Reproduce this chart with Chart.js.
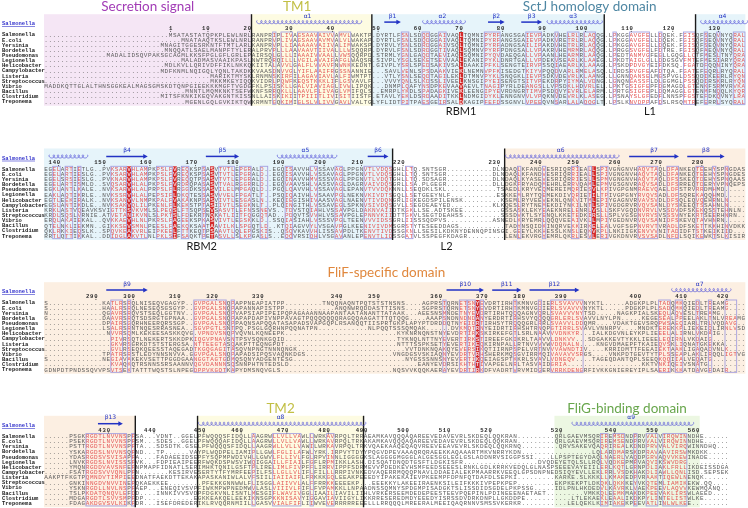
<!DOCTYPE html>
<html><head><meta charset="utf-8">
<script src="https://cdn.jsdelivr.net/npm/chart.js@4.4.1/dist/chart.umd.min.js"></script>
<style>html,body{margin:0;padding:0;background:#fff;}#c{display:block;}</style>
</head><body>
<canvas id="c" width="748" height="508"></canvas>
<script>
// ---------------- DATA ----------------
const species = ["Salmonella","E.coli","Yersinia","Bordetella","Pseudomonas","Legionella","Helicobacter","Campylobacter","Listeria","Streptococcus","Vibrio","Bacillus","Clostridium","Treponema"];
const referenceName = "Salmonella";

const block1 = [
"..............................MSATASTATQPKPLEWLNRLRANPRIPLIVAGSAAVAIVVAMVLWAKTP.DYRTLFSNLSDQDGGAIVAQLTQMNIPYRFANGSGAIEVPADKVHELRLRLAQQG.LPKGGAVGFELLDQEK.FGISQFSEQVNYQRAL",
".................................MNATAAQTKSLEWLNRLRANPRVPLIVAGSAAVAVMVALVLWAKAP.DYRTLFSNLSDQDGGAIVAQLTQMNIPYRFANGSGAIEVPADKVRETRLRLAQQG.LPKGGAVGFELLDQEK.FGISQFSEQVNYQRAL",
"............................MNAGITGGESRKNTFTMTLARLKANPRVPLLIAAAAAVAIIVALIMWAKSP.DYRVLYSNLSDRDGGAIVSQLTQMNIPYRFADNGSAILIPAKDVHETRLRLAQQG.LPKGGAVGFELLDQEK.FGISQFSEQVNYQRAL",
".............................MNQQATLSAELMANPFTYLERALPRVPLLLAAVAAVTIIVALLLWSQQRP.DYRVLFSNLSDRDGGTIVAQLSQMNVPYRFPDNGSALLVPAKRVHEMRMRLAQQG.LPRGGSVGFELFDTRE.FGISQFAEQVNYQRAL",
"...............MADALIDSQVPAKSGCAGMLKKSFPGLGFLGRLEPAIRSQLGLLLIAAAIVVAALLVWSQQRPD.STRMLYGNLGAQDTAEVIAQLSQMNIPYQVDAEQGALLVPAANLHEARMRLAAQG.LPEDTANMVGFEGLLGQGLLCTFMESLTNYQRA",
".................................MALADMASVAAIKPASLNWTRQRQILLLVGILAVAIFAFGLWAQSR.SIVPLYSGLSEKETSEVVAALEKANIPYKLDNRTGALLVPDEKVSEARLKLAAEG.LPKDTAIGLGLLDDGSGVFMTEFMESIARYQRA",
".............................MDLKVLLQRIVDFFIKLNKKQKIITALAVVLGALFLVVAVFNWNKKEDNT.GIVPLYSRLSPEDSAKIVSALDAAKIPFKLSENGTEIRVPSSQIAEARLKLAAAG.LPSKDPDVGYEIFDKSQ.FGATDFQQNINYQRA",
"............................MDFKNMLNQIGQLYQNLTAKDKKVAASDNVVGLYIFLAAIFRGSSNANNIE...SAVLVENLSPSDAAKVIEKLNEMNVPFKISEDGTKIYVPQQDVARLRMELASQ.LIRDSRVGFEAFDTQA.FGATEFEQRLRYQRAL",
"........................................MARIKTMYSKLRNMNSKIRFILAGAVIAVLALFIWMTPT...VTLYSNLSEQDTAGILEKLDTMNVPYKLSNQGKLIEVPSDKVDEVRLKLAANG.LLGNNQANSELMGSPVGLDSSQDIKEERLRYQN",
"........................................MKKMKEYIQQKVIDRLPQWFKEQSTKKKLIFLGSVAVLF...VVVYQNLSLKDSSLIVEELKNSGIPYEISENGTSITVPEKDRPYIYMALVDNG.LGNQNGASSFLDLGGMGLPSSQDIRSKRLRYQN",
"MADDKQTTGLALTHNSGGKEALMAGSGMSKDTQNPGIEEKKKMGFTVGDGFKLPSISKLLGALVIAVIAGLIVWLIPQK...DNMPLQAFYNSDPKEVAAVAEVLTNAGIPYRLDEANGSLLVPSDKLHDVRLEL.LPKTGSIGFEPFDGMAGDLGTENKFSRMVRVKA",
"..................................MNNTLMQMKNKTSEFWKNFSRRQKLLLAAVLFLIVAGLVMIFQLS..EMRPLYKDLSPADAGKIVEKLEENGIPYEVRDNGRTIMVPSDQVYEVRLELARM.LPRTGSIGFEPLDQMAGGLGTENMFNQQLKYQR",
"............................MITSFKNKIKEQVAKGNTKISSNLLAISKIKIITPIIITLIVISITIISTF.ETAVLYEKLDSRDAADITKKLNDMGIDYKLENNGNVVLVPQKNVDEVRLKLASEG.LPSNAYSLGFEDFLNNSPFGSTEFDKQVNYLRA",
"..................................MGENLGQLGVKIKTQWKRMNTGQKIMIGLSLVLIVVGAVLVALTGLYFLIDTPITPAESGEIRSALDKAGIPFEFDSSGNVLVPEEQVNSARLALAQQGLT.LPSLKNVDPPAFDSLRSQMTREFERRLSYQRAL"
];
const block2 = [
"EGELARTIETLG..PVKSARVHLAMPKPSLFVREQKSPSASVTVTLEPGRALD..EGQISAVVHLVSSAVAGLPPGNVTLVDQSGHLLTQ.SNTSGR...........DLNDAQLKFANDVESRIQRRIEALLSPIVGNGNVHAQVTAQLDFANKEQTEEHYSPNGDAS",
"EGELARTIESLG..PVKSARVHLAMPKPSLFVREQKSPSASVTVTLEPGRALD..EGQISAVVHLVSSAVAGLPPGNVTLVDQSGHLLTQ.SNTSGR...........DLNDAQLKFANDVESRIQRRIEALLSPIVGNGNVHAQVTAQLDFANKEQTEEHYSPNGDES",
"EGELSRSIESLG..PVKNARVHLAMPKPSLFVREQQTPSASVTVTLEPGRALD..EGQINAVVHMVSSSVAGLPPGNVTLVDQTGHLLTQ.SDSAGR...........DLNDAQLKYASEVESRIQRRIESLLSPMVGNGNVHAQVTAQLDFSSKEQTDEHYSPNQAAS",
"EGELARTISMLD..SVQSARVHLALPKPSLFVRDRQPASASVTVALRGGRRLD..EGQVAAVSHLVASSVAGLDAGRVAIVDQSGRLLSA.PLGEGR...........DLLDGKFRYADQMEHRLERRVQAMLEPMVGSGNVRAQVSADLDFSRREQTDERYVPNQEPS",
"EGKLANTLKALE..NVKSARVHLALPRPSLFLRGGDKSSASVILELMPGAQLD..PGQLQAVVHLVSSAVAGLEPANVTVVDQKNNLLSEQDKLSKL............TSAEDLKRYVEQMEREIMQRIESVLKPIVGPGNMRAEVQAELDFSTRVRRDMHMD...",
"EAKLAQTIKRLE..NVKSSRVHLALPEPSIFLDKQTESSASVVVELFPGATLT..PSQIQAIVHLVSAAVPGLNEKNVKIVDTSGQLLSETGEEYNLF...........ESKKEMLRYTQEMEKDIVQRIETILTPIVGPGNYRVQVSADLDFSQREKAQQHMD...",
"EGTLEEKIRALK..NVKSANVVLNMPKPALFVAKAKNPSASVIVTLESGASLN..KEQIEGISHIVAASVAGLNAENVTIVDQNGRLIGKEGDSPILENSK.........KSEMLRYVEEVEKNLQNKVITMLEPIYGAGNVRVAVSVDLDFSQLEQVQEHRNLN...",
"EGSLANTIKDLE..NVKSAKVQLILPKENLFLKEKSTPTASIIVTLSEGKNLT..PLQINGITHLVSSAVEGLSPKNVSIVDQSGVLLSEGDEAEYED..........KLKQESLRYTNEMEKDIYNKILNTLSPIVGDGRVRVQVSANLDYSKEEQTSSAHNLN...",
"KRKLASTVQEAVKSVIGTTKSVKVMLSLPEQSLFTSQPSEVSASVTLEFNSSNEVS..TDVSTQIAHLVSSAVPGLDAKNVAIIDTKGKLLSE.ADTSKEE.........GSSASKLEKYEAEKNRELENRLVSLLSKFVGQDNVRVLVSSDVDFSKEKQSSTEHNLN...",
"KRDLSQSLVRNIE.ATVETANIKVNLSLPKTSLFDEKRTNQKATLIITFQGGQTAD..PDQVTSVVHLVSSAVPGLEPNNVKIIDTTGKVLSEGTDEAHSS.........SSSDVKTLSYENQLKKETEDKIRSLLSPLVGSGNVRVSVSSSVNYEKRTSEERHNRN...",
"ERQLAKAIEKAL..QVKKAEVHLNLPKRSLFAGEEKSPKASVIVTLEGSKKLD..SSQIASIAHLVSSSVPGLTEENVVVIDSSGRLIISSSQDPVS...........ASNEDLKRYEMRLQQQVEEAIVKLLMPIYGEDNVRVQVSANIDFSKEVQTAVHNRN...",
"QTELNKLIEKMN..GIKKSEVSMNLPEESLFAEKQKSAATAAVILKLSPGQTLD..KTQIAGVVYLVSGAVPGLKEENIVIVDMSGRSTYTESEEDDAGS...........TADYNSQIDKINQRVEKKIRKELEALVGFSGPNVRVTVRADLDFSKETTKKHINVDKK",
"QKLRKKIEQSLK..SPQVKEAKVRLEIPKEELFTTKEQTPSAAVTLQLEPGSKIS..QSQVKAVVHLISSAVPDLTKENVTIVDSSGKNLLSESILKDKNYDENNQPINSGI.GEEYLKKHESSLKNSLEQKVKPLLNKIIGKENVVVNITADIDFTSTKEIKIID...",
"RRTLQTTIKKAL..DDIDGLAKVTLNLPKLSIFSAQKTPETASVLLSLKPGASLS..EQQVRSIQHLVSGAVANLEPENVTLIDSSGATVLSSPEGFKDAGR.........LENLEKVRGYEMRLQKRLESVLERIVGKDNVRVSVSADLNFDLSQIKEWKTSLKISIR"
];
const block3 = [
"S.............KATLRSRQLNISEQVGAGYP..GVPGALSNQPAPPNEAPIATPP.........TNQQNAQNTPQTSTSTNSNS....AGPRSTQRNETSNYEVDRTIRHTKMNVGDIERLSVAVVVNYKTL.....ADGKPLPLTADQMKQIEDLTREAMG....",
"S.............HAALRSRQLNESEQSGSGYP..GVPGALSNQPAPANNAPISTPP............ANQNWRQDDASTTISNS....SGPRSTQRNETSNYEVDRTIRHTKMNVGDIERLSVAVVVNYKTL.....PDGKPLPLSADQMKQIEDLTREAMG....",
"N.............QGAVRSRQVSTSEQLGGTNV..GVPGALSNQPVAPSIAPIPEIPQPAGAAANNAAPANTAATANANTTATAAK...AEESNSMNDETNYEVDRTIRHTQQQAGNVQRLSVAVVVNYTSD.....NAGKPIALSKEQLAQVESLTREAMG....",
"G.............DAAVRSRQTSDSRGTGPNAA..GVPGALSNQPAPAPDAPIVNPPAVAGTPQQQQQQQRAGQQAAGATTTQTQQG....AAAPSNDNNDNDANYERDRTIRHSVYQQQQGRLERLSVAVVLNYLPN.....KEGESEALPPEELAKLTNLVREAMG....",
"..............DPAIRSGQRHNEERQRSSGP..GVPGALSNQPPAQNSAPQQATASAPADSVAPGQPLRSANQQTIISPRTGKPLAPYPTDRDDQTNYEIDRTIRHSYTRQQQGRLRRLSVAVVLDDQMR....VDAKTGEVSRQPWSAEQIARLTRLVQDAVG..",
"..............LSALRSRNTNQESRRASNEA..SGVPGTLSNTPQ.PSGLGQRHNPQQNATPN............NLPQQTSSSQMQAK......DVKMQTRNYEIDRTIRHSHTRNQPGTIRRLSVAVLVNNRPV....MNDKTEREKKPLIEKEIQLIRNLVSDAIG..",
"...............NVVRSQMLKEKEESASKKQVG.VPNDVSNQPVQVNLKQNEEPK...........................KYKNRNQNSTNYEVDRTIRKSKIRKEFGTLSRLNAAVVVDNKYR...IALKDGVNLEYKPLIEEELALIRNLVKDAIG..",
"................PIVRSQTLNEKERTSKKDPKIQGVPNAVSNTPSVSQNKGQID...........................TYKNQLNTTNYEVERTIRKSTIREEFGKIKRLTAAVVLDNKVV...SDGAKKEVTYKKLIEEELEQIRNLVKDAIG..",
"................GKVRSGRKDTSTSTERGSA.NTTEEGTASQAKPTTEQNGPDT...........................NTTTSSPKSETYEVERTIKEQKIRNPALLRTNVVVVWVDQNALN....KNGVDMAEPFTKAIEQVSKLIQNATGKEKKA",
"................GVLRSEQKQEESSTAQEGADTKGQGAGITASQVNPNGTNNNQNGK..........................VVTDNKNQAKQYEVERSIKQTIIRNPSPELVRTNVVVAWNDTIV....KRRIDMTTFEEAIEKTAAKLIGAQADVNLK",
"..............TPATRSRSTLEDYNNSNVVA.GGVPGALSNQPAPADSIPQSVAQNKDGS.....................VNGDGSVSKIAQNYEVDRTVRHSHERKMQSGVIRRMQIVAVAVVSRGS....VNKPDTGEVTYTPLSSEAPLAKLIRQQLIGTVG..",
"S.............NEGIAVAKEKVSETTPGGDGAANGGTAGTGDMQSQNYADGENTESG...........................NYGSSSNNSNYEVERTIKQEIAGSPTKKRLSVAVLVDNEQV....TAGEQDANTQPLSEEQKQQIIALVEQATG..",
"................KVAQKQTRSNNSSRSAANNVQGVDANNNSQSNNPHTNTEDSLD...............................EANYEVDRSIKHTHTIVAPGELNRLTASVAIDGRIA..................KKTVNKIQEIVSNATG..",
"GDNPDTPNDSSQVVPSVTSEKTATTTWQSTSLNPEGDPPVKGQTKAPYDMSNQVGLS...........................NQSVVKQQKAERAYEVDRTIRKDFVADRTVRVMIDGERVRRKDENGRFIVKKGNIEREYIPLSAERIKKKATDAVGFDAIR"
];
const block4 = [
"......PSGKRGDTLNVVNSPFSA...VDNT..GGELPFWQQQSFIDQLLAAGRWLLVLLVAWLLWRKAVRPQLTRRAEAMKAVQQQAQAREEVEDAVEVRLSKDEQLQQKRAN.........QRLGAEVMSQRIREMSDNDPRVVALVIRQWINNDHE......",
"......PSEKRGDTLNVVNSPFSM...SDES..GGELPFWQQQAFIDQLLAAGRWLLVLLVAWLLWRKAVRPQLTRKAKAMKAVQQQAQAREEVEDAVEVRLSKDEQLQQKRAN.........QRLGAEVMSQRIREMSENDPRVVALVIRQWINNDHE......",
"......PSTTRGDTLNVVNSPFTA...SDSDTK.GSELPFWQQQSFIDQLLAAGRWLLVLLVAWILWRKAVRPQLTRKVQAEKAAQEQAQVREEVEEAVEVRLSKDEQLQQKRNQ.........QRVSAKEVQAQRIREALKDNDPRVVALVIRQWINNDHQ......",
"......YSKARGDSLNVVNSQFND...TP......VAYPLWQDPELIAMIPLLGWLFGLILAFWLYRK.IRPVYTDYYPQGVDPEVAAAQRQRAEEKKAQAAARTMKVNRRYKDN.................LQLARDMARSKDPRAVAAVIRSWMKDKK.......",
"......YDASRGDSVSVISAPFA....FADAEEIDSEPFYSQPMPWDIVHLLGWVLFLLIVLFGLRPVINNLIGGGGKSLAGGGGMGGGLALGESGGLEGLGSLADDNRVSIGGPSSI....LLPSPTEGYDAQLNAERLVAQDPGRVAQVVKEWINADE........",
"......LNVKRGDSLNVISSSFVK...FDPIEAIPEERFWQKDSPWSVIWQIGGAILLFIAILFGFLRPMIKKLASH.DISQATDNQDTGSFTLDGKISFR..................DVQDEYETQLSLLRQLVQDKEPMRVAQVIKSWVDRG.......",
"......YMQNRGDDVAVSNFEFNPMAPFIDNATLSERIMHKTQNILGSFTPLIRELIMLFIVPFFLIRRVIPPFSDRMEVVPDEDKEVHSMFEEDSEEESLRNKLGDLKRRKVEDQLGLNASPSEEEVAYEIILERLKQTLGRNPDLIAKLFRLLIKDEISSDGAKG.",
"......FSATRGDSVVVQNLPFN.......KESIRVESERTYTFYMRFEEPILFSLLGLLVLIFLFILLLRRPIVNKEDVAQERRMQQQPNAVLDDAEIALEKPMAARRKVEEQLGPSDNPNEDSIQYEVLLEKLRRLVSDKHAKDLIAWLLQNLISD.SEPSEKDM",
"AAKPTFKGTPQMNDVTIMPIEEDNATFAEKDTTEKAKAPASKANIWLALVFSIILIAIIAIFLFRKKKGQLEEAKPEEEDYIPAKEKAIEVPKEEMPFDPNFQTDAFDLSEPKI.........KARKE.SLKKKLLKMAKEDPVRAAKTIQEWLNENQK.......",
"......GNKINNGDVNVVINEPQKAEKKEE........PFEKKGNNWWLFLISGGLAIIVVLALFFRRKKEEEEKP...EEEKKYLAKEEIRAENKSILEIFKKKIVPEPKPEP.........EKPKEKPTLDKQKLQKKKEYVKQTEMLIAMIKEKW.QQ......",
"......YSKNRGDLLNVLNSPFAEP...ENEQIVSVPFIWKMPWPNEDMWVLASLVIIIVLFIFLFVPAMKKLLNPAADNSSQMNYSPDGMPISADGKTSLISSDIDSGDELPKPSSG.....IDLPNLHKDEDVLKAVRKLVAEKPEEVLAQVVKEWMQANQ......",
"......TSLPKDATQNQVLEFDD....INNKIVVSVDPFDGKVNLISNTLMESGIFLWAVIVGGLIAAILIAVILIIHLVRKERSEEMDEDEPEESTEEVPQEPINLPDINEEENAETAET.........VMKKQLEEMKMAKDKPEEVAKLIRSWLAEED.......",
"......MDGARGDTLSVVSMPFDP............EGKKEAKQELEEKIKNSGPKKNISAVYIGGAVIAVIIGYLIKKRRESEREDMDYEEEDYISRSSDVDRKDNPLLGKDDPE...........LTLEKAEKLEAALIKDKPYLINTELISTWLKE.......",
"......FDAGAKDGVSVLKIKFDR...ISEFDREDERIKLRVQQRNMIILLGASVVIALFIFLIIWVEVERRRRREEELLLRRQQQLMREERALMEEIQAQRNNVSMSSVKERKR...........LELQEKLKIMIAKEKPEEVATLINLWLKEE......."
];
const blockColumns = [169, 169, 169, 165];

// residue-number tick labels (Salmonella numbering) and the alignment column each sits over
const tickLabels1 = [1,10,20,30,40,50,60,70,80,90,100,110,120,130];
const tickCols1   = [30,39,49,59,69,80,90,100,110,120,130,141,151,162];
const tickLabels2 = [140,150,160,170,180,190,200,210,220,230,240,250,260,270,280];
const tickCols2   = [3,14,25,36,46,57,67,76,86,109,119,128,138,148,158];
const tickLabels3 = [290,300,310,320,330,340,350,360,370,380,390,400,410,420];
const tickCols3   = [12,21,32,41,52,71,80,95,106,115,125,143,154,164];
const tickLabels4 = [430,440,450,460,470,480,490,500,510,520,530,540,550,560];
const tickCols4   = [15,26,38,47,58,68,77,87,97,107,124,137,147,157];

// domain column ranges [name, fromCol, toCol]
const domains1 = [["secretion",0,50],["tm",50,79],["sctj",79,135],["sctj",157,169]];
const domains2 = [["sctj",0,84],["flif",111,169]];
const domains3 = [["flif",0,169]];
const domains4 = [["flif",0,22],["tm",37,77],["flig",123,158]];
// domain boundary separators (column index)
const separators1 = [50,79,135,157];
const separators2 = [84,111];
const separators3 = [];
const separators4 = [22,37,77];
// strictly conserved columns (red)
const identical1 = [100];
const identical2 = [20,31,40,132];
const identical3 = [104];
const identical4 = [];
// similarity boxes [fromCol, toCol]
const boxes1 = [[55,55],[57,59],[61,65],[66,69],[71,73],[86,87],[91,92],[95,96],[106,109],[116,119],[123,123],[126,128],[130,132],[137,137],[141,145],[148,148],[154,156],[159,159],[162,162],[166,168]];
const boxes2 = [[2,3],[5,6],[8,8],[16,19],[21,24],[27,30],[33,34],[38,38],[42,45],[47,49],[52,53],[58,59],[64,65],[70,71],[77,83],[87,88],[114,114],[120,120],[127,128],[131,131],[134,135],[143,147],[150,152],[157,158],[161,161],[164,164]];
const boxes3 = [[16,18],[20,20],[36,43],[45,45],[96,96],[100,101],[102,103],[105,105],[113,113],[119,119],[122,129],[148,150],[152,153],[157,157],[160,160],[164,166]];
const boxes4 = [[10,19],[21,21],[50,50],[55,61],[64,64],[68,69],[134,135],[137,139],[142,142],[145,147],[149,154]];
// secondary structure [type, fromCol, toCol, name]
const ss1 = [["h",51,75,"α1"],["b",82,85,"β1"],["h",91,100,"α2"],["b",107,110,"β2"],["b",115,119,"β3"],["h",121,133,"α3"],["h",158,168,"α4"]];
const ss2 = [["h",1,9,""],["b",15,24,"β4"],["b",39,46,"β5"],["h",56,69,"α5"],["b",78,82,"β6"],["h",111,137,"α6"],["b",141,152,"β7"],["b",155,163,"β8"]];
const ss3 = [["b",15,24,"β9"],["b",97,105,"β10"],["b",108,114,"β11"],["b",117,128,"β12"],["h",151,164,"α7"]];
const ss4 = [["b",13,18,"β13"],["h",37,76,"α8"],["h",127,155,"α9"]];
// annotations [block, text, centerCol, kind, where]
const annotations = [
  [0,"Secretion signal",25,"secretion","top"],[0,"TM1",61,"tm","top"],[0,"SctJ homology domain",131.5,"sctj","top"],
  [0,"RBM1",100.5,"plain","bottom"],[0,"L1",146,"plain","bottom"],
  [1,"RBM2",38,"plain","bottom"],[1,"L2",97,"plain","bottom"],
  [2,"FliF-specific domain",82.5,"flif","top"],
  [3,"TM2",57,"tm","top"],[3,"FliG-binding domain",140.5,"flig","top"]
];

// ---------------- LAYOUT / STYLE ----------------
const LAYOUT = { colW:4.15, x0:44, rowH:5.15, row0:[34.7,169,302.7,436.3], bgTop:-20.5, bgBottom:71,
  boxPad:2.7, nameCol:-10.12, refDy:-10.6, numDy:-6.2, ssDy:-12.6, ssLabelDy:-18.4,
  topLabelDy:[-28,-28,-30.4,-27.3], bottomLabelDy:77 };
const STYLE = {
  fill:{secretion:"#f5e6f5",tm:"#fdfbe2",sctj:"#e6f4fa",flif:"#fcefe2",flig:"#ecf7e2"},
  label:{secretion:"#a23cb6",tm:"#c2bf45",sctj:"#4f87a3",flif:"#e0883e",flig:"#68a64c",plain:"#1a1a1a"},
  text:"#5c5c5c", sim:"#e45656", red:"#d42a2a", box:"#a49fe0", ss:"#2232c4", helix:"#5b5bd8"
};

const seqBlocks = [block1,block2,block3,block4];
const tickBlocks = [[tickLabels1,tickCols1],[tickLabels2,tickCols2],[tickLabels3,tickCols3],[tickLabels4,tickCols4]];
const domainBlocks = [domains1,domains2,domains3,domains4];
const sepBlocks = [separators1,separators2,separators3,separators4];
const idBlocks = [identical1,identical2,identical3,identical4];
const boxBlocks = [boxes1,boxes2,boxes3,boxes4];
const ssBlocks = [ss1,ss2,ss3,ss4];
const fit = (s,n) => (s + ".".repeat(n)).slice(0,n);

const alignmentPlugin = {
  id:"alignment",
  beforeDatasetsDraw(chart){
    const ctx = chart.ctx, xs = chart.scales.x, ys = chart.scales.y;
    const X = c => xs.getPixelForValue(c), Y = v => ys.getPixelForValue(v);
    const L = LAYOUT;
    seqBlocks.forEach((rows, bi) => {
      const r0 = L.row0[bi], ncol = blockColumns[bi];
      const top = Y(r0+L.bgTop), bot = Y(r0+L.bgBottom);
      domainBlocks[bi].forEach(([name,a,z]) => { ctx.fillStyle = STYLE.fill[name]; ctx.fillRect(X(a), top, X(z)-X(a), bot-top); });
      const bt = Y(r0-L.boxPad), bb = Y(r0+(species.length-1)*L.rowH+L.boxPad);
      idBlocks[bi].forEach(c => { ctx.fillStyle = STYLE.red; ctx.fillRect(X(c), bt, X(c+1)-X(c), bb-bt); });
      const boxed = new Set(); boxBlocks[bi].forEach(([a,z]) => { for(let c=a;c<=z;c++) boxed.add(c); });
      const ident = new Set(idBlocks[bi]);
      ctx.font = '6px "Liberation Mono"'; ctx.textAlign = "center"; ctx.textBaseline = "middle";
      rows.forEach((raw, i) => {
        const s = fit(raw, ncol), y = Y(r0+i*L.rowH);
        for (let j=0;j<ncol;j++){
          const ch = s[j];
          ctx.fillStyle = ident.has(j) ? "#ffffff" : (boxed.has(j) && ch !== ".") ? STYLE.sim : STYLE.text;
          ctx.fillText(ch, (X(j)+X(j+1))/2, y+0.3);
        }
      });
      ctx.strokeStyle = STYLE.box; ctx.lineWidth = 0.9;
      boxBlocks[bi].forEach(([a,z]) => ctx.strokeRect(X(a)+0.4, bt, X(z+1)-X(a)-0.8, bb-bt));
      ctx.strokeStyle = "#1b1b1b"; ctx.lineWidth = 1.4;
      sepBlocks[bi].forEach(c => { const x = X(c); ctx.beginPath(); ctx.moveTo(x, top); ctx.lineTo(x, bot); ctx.stroke(); });
      // species names
      ctx.textAlign = "left"; ctx.font = 'bold 5.5px "Liberation Mono"'; ctx.fillStyle = "#1a1a1a";
      species.forEach((n,i) => ctx.fillText(n, X(L.nameCol), Y(r0+i*L.rowH)+0.3));
      // reference label
      ctx.fillStyle = "#3636cc"; const ry = Y(r0+L.refDy);
      ctx.fillText(referenceName, X(L.nameCol), ry);
      const w = ctx.measureText(referenceName).width;
      ctx.fillRect(X(L.nameCol), ry+2.3, w, 0.6);
      // numbering
      const [labs, cols] = tickBlocks[bi];
      ctx.font = 'bold 5.6px "Liberation Mono"'; ctx.textAlign = "center"; ctx.fillStyle = "#2a2a2a";
      labs.forEach((lab, k) => {
        const d = String(lab), c = cols[k], ny = Y(r0+L.numDy);
        for (let q=0;q<d.length;q++){ const cc = c-(d.length-1-q); ctx.fillText(d[q], (X(cc)+X(cc+1))/2, ny); }
        ctx.fillRect((X(c)+X(c+1))/2-0.4, ny+2.4, 0.9, 0.9);
      });
      // secondary structure
      const sy = Y(r0+L.ssDy), ly = Y(r0+L.ssLabelDy);
      ssBlocks[bi].forEach(([t,a,z,name]) => {
        const xa = X(a), xz = X(z+1);
        if (t === "h") {
          ctx.strokeStyle = STYLE.helix; ctx.lineWidth = 0.75; ctx.beginPath();
          const n = z-a+1, aa = L.colW/(2*Math.PI), b = 1.6;
          for (let th=0; th<=n*2*Math.PI; th+=0.25){
            const x = xa + 1.6 + aa*th - b*Math.sin(th), y = sy - b*Math.cos(th);
            if (th===0) ctx.moveTo(x,y); else ctx.lineTo(x,y);
          }
          ctx.stroke();
        } else {
          ctx.strokeStyle = STYLE.ss; ctx.fillStyle = STYLE.ss; ctx.lineWidth = 1.5;
          ctx.beginPath(); ctx.moveTo(xa, sy); ctx.lineTo(xz-3.5, sy); ctx.stroke();
          ctx.beginPath(); ctx.moveTo(xz, sy); ctx.lineTo(xz-4.5, sy-2.4); ctx.lineTo(xz-4.5, sy+2.4); ctx.closePath(); ctx.fill();
        }
        if (name) { ctx.fillStyle = STYLE.ss; ctx.font = '6px "DejaVu Sans"'; ctx.textAlign = "center"; ctx.fillText(name, (xa+xz)/2, ly); }
      });
    });
    // annotations
    annotations.forEach(([bi,text,col,kind,where]) => {
      const r0 = L.row0[bi];
      const y = where === "top" ? Y(r0+L.topLabelDy[bi]) : Y(r0+L.bottomLabelDy);
      ctx.font = where === "top" ? '13.5px Lato' : '11px Lato';
      ctx.fillStyle = STYLE.label[kind]; ctx.textAlign = "center"; ctx.textBaseline = "middle";
      ctx.fillText(text, X(col), y);
    });
  }
};

new Chart(document.getElementById("c"), {
  type: "scatter",
  data: { datasets: [{ label: "alignment", data: [], pointRadius: 0 }] },
  options: {
    responsive: false, animation: false, devicePixelRatio: 1, events: [],
    layout: { padding: 0 },
    plugins: { legend: { display: false }, tooltip: { enabled: false } },
    scales: {
      x: { type: "linear", display: false, min: -LAYOUT.x0/LAYOUT.colW, max: (748-LAYOUT.x0)/LAYOUT.colW },
      y: { type: "linear", display: false, min: 0, max: 508, reverse: true }
    }
  },
  plugins: [alignmentPlugin]
});
</script>
</body></html>
